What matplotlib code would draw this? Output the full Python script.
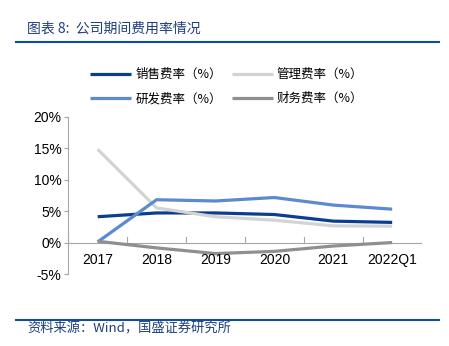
import matplotlib.pyplot as plt
import matplotlib as mpl
import numpy as np

mpl.rcParams['font.family'] = ['Liberation Sans', 'Noto Sans CJK SC', 'DejaVu Sans']
mpl.rcParams['axes.unicode_minus'] = False

# 数据
years = ['2017', '2018', '2019', '2020', '2021', '2022Q1']
sales = [4.1, 4.7, 4.7, 4.45, 3.4, 3.2]       # 销售费率
admin = [14.8, 5.5, 4.1, 3.55, 2.65, 2.6]     # 管理费率
rnd = [0.1, 6.8, 6.6, 7.15, 5.95, 5.3]        # 研发费率
fin = [0.2, -0.85, -1.75, -1.4, -0.55, 0.0]   # 财务费率

names = ['销售费率（%）', '管理费率（%）', '研发费率（%）', '财务费率（%）']
colors = ['#0B3E8E', '#D3D3D3', '#5B8ACF', '#8F8F8F']

fig = plt.figure(figsize=(4.49, 3.46), dpi=100)
ax = fig.add_axes([0.152, 0.208, 0.787, 0.455])

x = np.arange(len(years))
lines = []
for y, c, n in zip([sales, admin, rnd, fin], colors, names):
    l, = ax.plot(x, y, color=c, lw=2.3, label=n, solid_capstyle='butt')
    lines.append(l)

ax.set_xlim(-0.5, len(years) - 0.5)
ax.set_ylim(-5, 20)
ax.set_yticks([-5, 0, 5, 10, 15, 20])
ax.set_yticklabels(['-5%', '0%', '5%', '10%', '15%', '20%'], fontsize=10)

# x 轴放在 0 处，刻度在类别分界
for s in ['top', 'right', 'bottom']:
    ax.spines[s].set_visible(False)
ax.spines['left'].set_color('#A6A6A6')
ax.axhline(0, color='#A6A6A6', lw=0.8, zorder=0)
ax.set_xticks(np.arange(-0.5, len(years), 1))
ax.set_xticklabels([])
ax.tick_params(axis='x', length=0)
for i in range(len(years) + 1):
    ax.plot([i - 0.5, i - 0.5], [0, 0.9], color='#A6A6A6', lw=0.8, zorder=0)
for i, t in enumerate(years):
    ax.text(i, -2.8, t, ha='center', va='center', fontsize=10)
ax.tick_params(axis='y', length=3, color='#A6A6A6', pad=2)

# 图例：两行两列，按行排列
order = [0, 2, 1, 3]
leg = fig.legend(handles=[lines[i] for i in order], ncol=2, loc='center',
                 bbox_to_anchor=(0.505, 0.75),
                 frameon=False, handlelength=3.3, handletextpad=0.3,
                 columnspacing=0.8, labelspacing=0.9,
                 prop={'family': ['Noto Sans CJK SC', 'DejaVu Sans'], 'size': 9})

# 标题和来源
fig.text(0.06, 0.918, '图表 8:  公司期间费用率情况', fontsize=10, color='#1F3E7C',
         family=['Noto Sans CJK SC', 'DejaVu Sans'], va='center', style='italic')
fig.add_artist(plt.Line2D([0.036, 0.978], [0.878, 0.878], color='#0B4EA2', lw=1.5))
fig.add_artist(plt.Line2D([0.036, 0.978], [0.075, 0.075], color='#0B4EA2', lw=1.5))
fig.text(0.06, 0.048, '资料来源：Wind，国盛证券研究所', fontsize=9.5, color='#1F3E7C',
         family=['Noto Sans CJK SC', 'DejaVu Sans'], va='center', style='italic')

fig.savefig('out.png', dpi=100)
